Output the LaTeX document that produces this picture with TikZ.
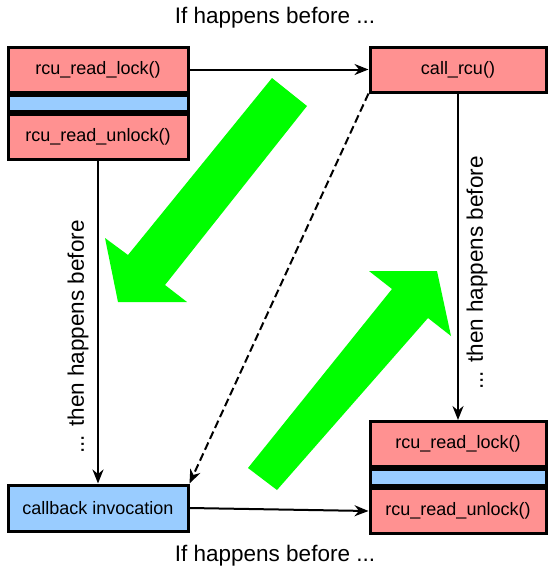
\documentclass[tikz,border=0pt]{standalone}
\usepackage{fontspec}
\setmainfont{Liberation Sans}
\usetikzlibrary{positioning,arrows.meta}
\definecolor{lockred}{RGB}{255,145,145}
\definecolor{cbblue}{RGB}{153,204,255}
\definecolor{fatgreen}{RGB}{0,255,0}
\tikzset{
	box/.style={draw=black, line width=3pt, minimum width=180pt, minimum height=45pt, inner sep=0pt, font=\fontsize{18}{20}\selectfont},
	redbox/.style={box, fill=lockred},
	strip/.style={draw=black, line width=3pt, fill=cbblue, minimum width=180pt, minimum height=16pt, inner sep=0pt},
	flow/.style={line width=2pt, -{Stealth[length=14pt,width=11pt]}},
	bigtext/.style={font=\fontsize{22.5}{25}\selectfont}
}
\begin{document}
\begin{tikzpicture}[x=1pt, y=-1pt]
	\useasboundingbox (0,0) rectangle (548,571);
	
	% Reader on the left
	\node[redbox] (lockA) at (98,69.5) {rcu\_read\_lock()};
	\node[strip, below=0pt of lockA] (stripA) {};
	\node[redbox, below=0pt of stripA] (unlockA) {rcu\_read\_unlock()};
	
	% Updater
	\node[redbox, minimum width=176pt] (callrcu) at (458,69.5) {call\_rcu()};
	\node[box, fill=cbblue, minimum height=46pt] (callback) at (98,508) {callback invocation};
	
	% Reader on the right
	\node[redbox, minimum width=176pt] (lockB) at (458,444) {rcu\_read\_lock()};
	\node[strip, minimum width=176pt, below=0pt of lockB] (stripB) {};
	\node[redbox, minimum width=176pt, below=0pt of stripB] (unlockB) {rcu\_read\_unlock()};
	
	% Arrows
	\draw[flow] (lockA.east) -- (callrcu.west);
	\draw[flow] (unlockA.south) -- (callback.north);
	\draw[flow] (callrcu.south) -- (lockB.north);
	\draw[flow] (callback.east) -- (unlockB.west);
	\draw[flow, dashed, dash pattern=on 8pt off 4pt] (callrcu.south west) -- (callback.north east);
	
	% Big green arrows
	\fill[fatgreen] (272,78) -- (307,106) -- (165,285) -- (187,302) -- (118,302)
	-- (105,238) -- (128,255) -- cycle;
	\fill[fatgreen] (248,468) -- (277,490) -- (428,318) -- (451,336) -- (437,271)
	-- (369,271) -- (392,289) -- cycle;
	
	% Labels
	\node[bigtext] (toptext) at (275,18) {If happens before ...};
	\node[bigtext] (bottext) at (275,556) {If happens before ...};
	\node[bigtext, rotate=90] (lefttext) at (78,337) {... then happens before};
	\node[bigtext, rotate=90] (righttext) at (477,273) {... then happens before};
	
\end{tikzpicture}
\end{document}
